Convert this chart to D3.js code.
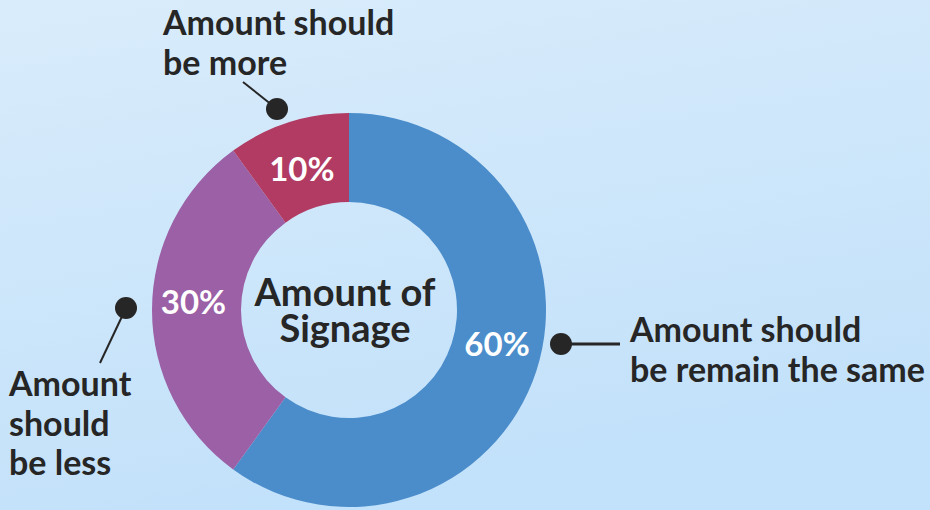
<!DOCTYPE html>
<html>
<head>
<meta charset="utf-8">
<script src="https://cdn.jsdelivr.net/npm/d3@7"></script>
<style>
  html, body { margin: 0; padding: 0; }
  body { width: 930px; height: 510px; overflow: hidden; }
  svg { display: block; }
  text { font-family: Lato, "Open Sans", sans-serif; font-weight: 700; }
</style>
</head>
<body>
<div id="chart"></div>
<script>
// データ
const categories = ['Amount should be remain the same', 'Amount should be less', 'Amount should be more'];
const values = [60, 30, 10];
const colors = ['#4b8dcb', '#9b60a6', '#b13b62'];
const centerTitle = ['Amount of', 'Signage'];
// 凡例ラベル（改行ごと）
const labelLines = [
    ['Amount should', 'be remain the same'],
    ['Amount', 'should', 'be less'],
    ['Amount should', 'be more']
];

const width = 930;
const height = 510;
const cx = 349;
const cy = 310;
const outerR = 197;
const innerR = 108;

const svg = d3.select('#chart')
    .append('svg')
    .attr('width', width)
    .attr('height', height);

// 背景のグラデーション
const defs = svg.append('defs');
const grad = defs.append('linearGradient')
    .attr('id', 'bg')
    .attr('x1', '0').attr('y1', '0')
    .attr('x2', '0.3').attr('y2', '1');
grad.append('stop').attr('offset', '0%').attr('stop-color', '#d9ecfb');
grad.append('stop').attr('offset', '100%').attr('stop-color', '#c2e1fa');

svg.append('rect')
    .attr('width', width)
    .attr('height', height)
    .attr('fill', 'url(#bg)');

const g = svg.append('g').attr('transform', `translate(${cx},${cy})`);

// 円グラフ
const pie = d3.pie().sort(null).value(d => d);
const arcs = pie(values);
const arc = d3.arc().innerRadius(innerR).outerRadius(outerR);

g.selectAll('path.slice')
    .data(arcs)
    .enter()
    .append('path')
    .attr('class', 'slice')
    .attr('d', arc)
    .attr('fill', (d, i) => colors[i]);

// パーセントのラベル
const labelNudge = [[3, -14], [-3, -9], [0, 3]];
g.selectAll('text.pct')
    .data(arcs)
    .enter()
    .append('text')
    .attr('class', 'pct')
    .attr('x', (d, i) => arc.centroid(d)[0] + labelNudge[i][0])
    .attr('y', (d, i) => arc.centroid(d)[1] + labelNudge[i][1])
    .attr('text-anchor', 'middle')
    .attr('dominant-baseline', 'central')
    .attr('font-size', '33px')
    .attr('fill', '#ffffff')
    .text(d => d.data + '%');

// 中央のタイトル
g.append('text')
    .attr('text-anchor', 'middle')
    .attr('font-size', '38px')
    .attr('fill', '#262626')
    .selectAll('tspan')
    .data(centerTitle)
    .enter()
    .append('tspan')
    .attr('x', -4)
    .attr('y', (d, i) => -4 + i * 36)
    .text(d => d);

// 引き出し線と点
const callouts = [
    { dot: [561, 344], end: [620, 344], text: [630, 342], sw: 3 },
    { dot: [126, 308], end: [100, 363], text: [9, 396], sw: 2 },
    { dot: [277, 109], end: [243, 82], text: [163, 35], sw: 2 }
];

callouts.forEach((c, i) => {
    svg.append('line')
        .attr('x1', c.dot[0]).attr('y1', c.dot[1])
        .attr('x2', c.end[0]).attr('y2', c.end[1])
        .attr('stroke', '#262626')
        .attr('stroke-width', c.sw);
    svg.append('circle')
        .attr('cx', c.dot[0]).attr('cy', c.dot[1])
        .attr('r', 11)
        .attr('fill', '#262626');
    svg.append('text')
        .attr('font-size', '34px')
        .attr('fill', '#262626')
        .selectAll('tspan')
        .data(labelLines[i])
        .enter()
        .append('tspan')
        .attr('x', c.text[0])
        .attr('y', (d, j) => c.text[1] + j * 39.5)
        .text(d => d);
});
</script>
</body>
</html>
